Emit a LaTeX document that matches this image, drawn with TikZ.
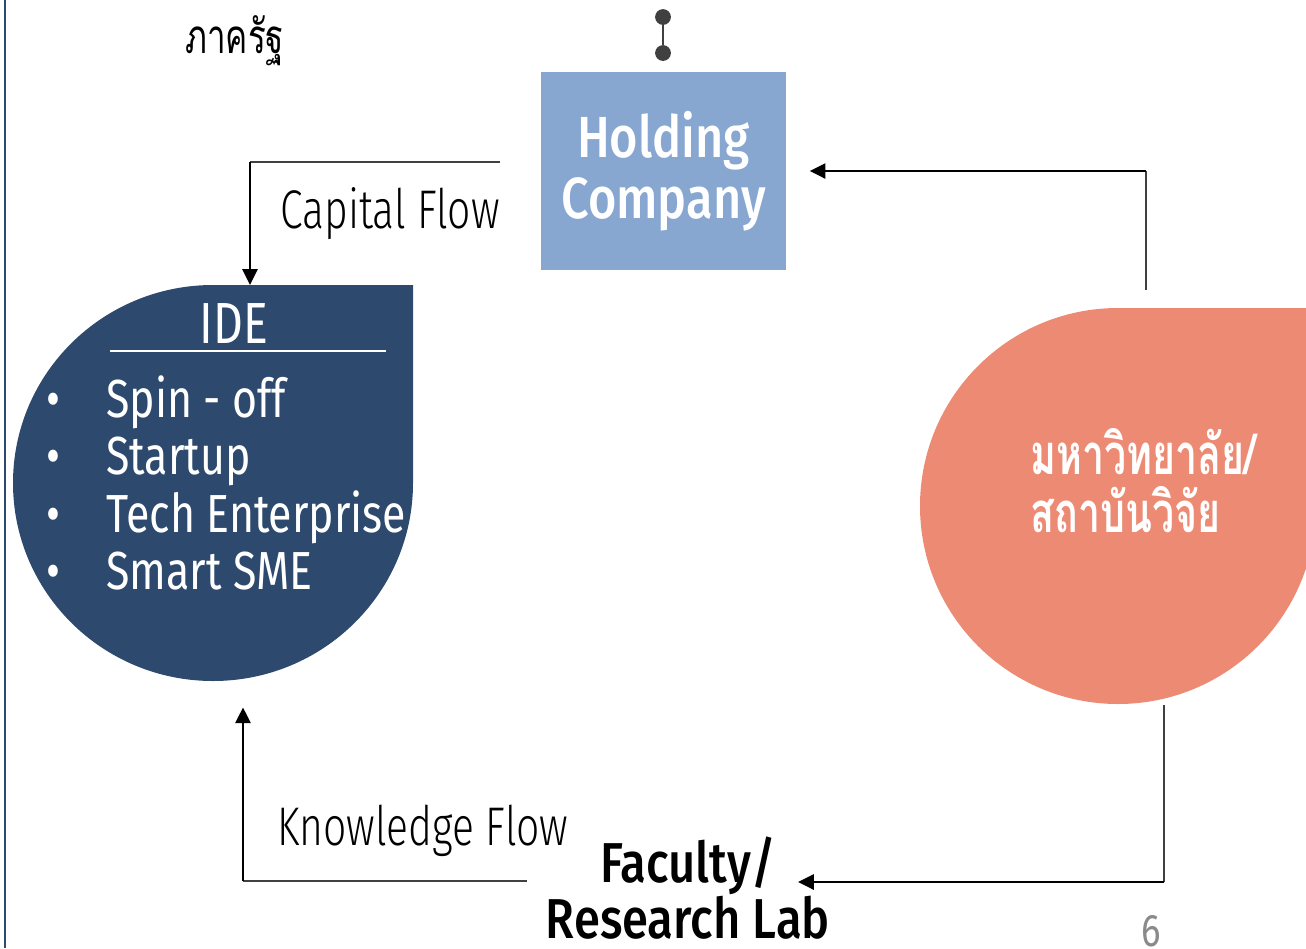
\documentclass[tikz,border=0pt]{standalone}
\usepackage{fontspec}
\setmainfont[FakeStretch=0.8]{Fira Sans}
\newfontfamily\lightfont[FakeStretch=0.75]{Fira Sans Light}
\newfontfamily\medfont[FakeStretch=0.84]{Fira Sans Medium}
\newfontfamily\thaifont[Script=Thai,FakeStretch=0.7]{Loma}
\usetikzlibrary{arrows.meta,calc}
\definecolor{idebg}{HTML}{2D4A6E}
\definecolor{holdbg}{HTML}{87A7D1}
\definecolor{unibg}{HTML}{EC8A74}
\definecolor{dotgray}{HTML}{404040}
\definecolor{numgray}{HTML}{8A8A8A}
\begin{document}
\begin{tikzpicture}[x=0.02cm,y=-0.02cm,line join=round,
	feed/.style={draw=dotgray,line width=1.1pt},
	flow/.style={draw=black,line width=1.6pt,-{Triangle[length=9pt,width=8.5pt]}},
	lbl/.style={font=\lightfont\fontsize{31}{36}\selectfont,inner sep=0pt,anchor=base west},
	item/.style={font=\fontsize{30.5}{36}\selectfont,text=white,inner sep=0pt,anchor=base west},
	fac/.style={font=\medfont\fontsize{32}{36}\selectfont,anchor=base,inner sep=0pt},
	dot/.style={circle,fill=dotgray,inner sep=0pt,minimum size=9pt}]
	\useasboundingbox (0,0) rectangle (1306,948);
	\draw[idebg,line width=1.4pt] (5,0)--(5,948);
	\fill[idebg] (212,285)--(413,285)--(413,483) arc[start angle=0,end angle=270,x radius=200,y radius=198]--cycle;
	\fill[unibg] (1118,308)--(1330,308)--(1330,506)--(1316,506) arc[start angle=0,end angle=270,radius=198]--cycle;
	\node[font=\thaifont\fontsize{27}{30}\selectfont,inner sep=0pt,anchor=base west] (gov) at (185,53) {ภาครัฐ};
	\node[dot] (pinA) at (663,17) {};
	\node[dot] (pinB) at (663,53) {};
	\draw[dotgray,line width=1.7pt] (pinA)--(pinB);
	\node[fill=holdbg,minimum width=140pt,minimum height=112.3pt,inner sep=0pt,text=white,align=center,
		font=\medfont\fontsize{33}{35}\selectfont] (hold) at (663.5,171) {Holding\\Company};
	\node[lbl] (caplbl) at (280,228) {Capital Flow};
	\node[lbl] (knowlbl) at (277,845) {Knowledge Flow};
	\node[font=\fontsize{33}{38}\selectfont,text=white,anchor=base,inner sep=0pt] (idetitle) at (234,343) {IDE};
	\draw[white,line width=0.8pt] (110,351)--(386,351);
	\foreach \t [count=\i] in {Spin - off,Startup,Tech Enterprise,Smart SME}{
		\node[item] (item\i) at (106,{417+57.5*(\i-1)}) {\t};
		\node[item,anchor=base] (bul\i) at (53,{417+57.5*(\i-1)}) {\textbullet};}
	\node[font=\thaifont\bfseries\fontsize{32}{33}\selectfont,text=white,align=left,anchor=west,inner sep=0pt] (uni) at (1030,481) {มหาวิทยาลัย/\\สถาบันวิจัย};
	\node[fac] (fac) at (688,882) {Faculty/};
	\node[fac] (lab) at (688,938) {Research Lab};
	\node[text=numgray,font=\fontsize{26}{30}\selectfont,anchor=base,inner sep=0pt] (pnum) at (1151,946) {6};
	\coordinate (ide top) at (250,285);
	\coordinate (ide foot) at (243,681);
	\coordinate (cap start) at (500,162);
	\coordinate (uni top) at (1146,290);
	\coordinate (uni foot) at (1164,705);
	\coordinate (know start) at (527,881);
	\draw[feed] (cap start)--(cap start -| ide top);
	\draw[flow] (cap start -| ide top)--(ide top);
	\draw[feed] (uni top)--(uni top |- hold.east);
	\draw[flow,shorten >=13pt] (uni top |- hold.east)--(hold.east);
	\draw[feed] (uni foot)--(uni foot |- fac.base east);
	\draw[flow,shorten >=12.5pt] (uni foot |- fac.base east)--(fac.base east);
	\draw[feed] (know start)--(know start -| ide foot);
	\draw[flow,shorten >=15pt] (know start -| ide foot)--(ide foot);
\end{tikzpicture}
\end{document}
